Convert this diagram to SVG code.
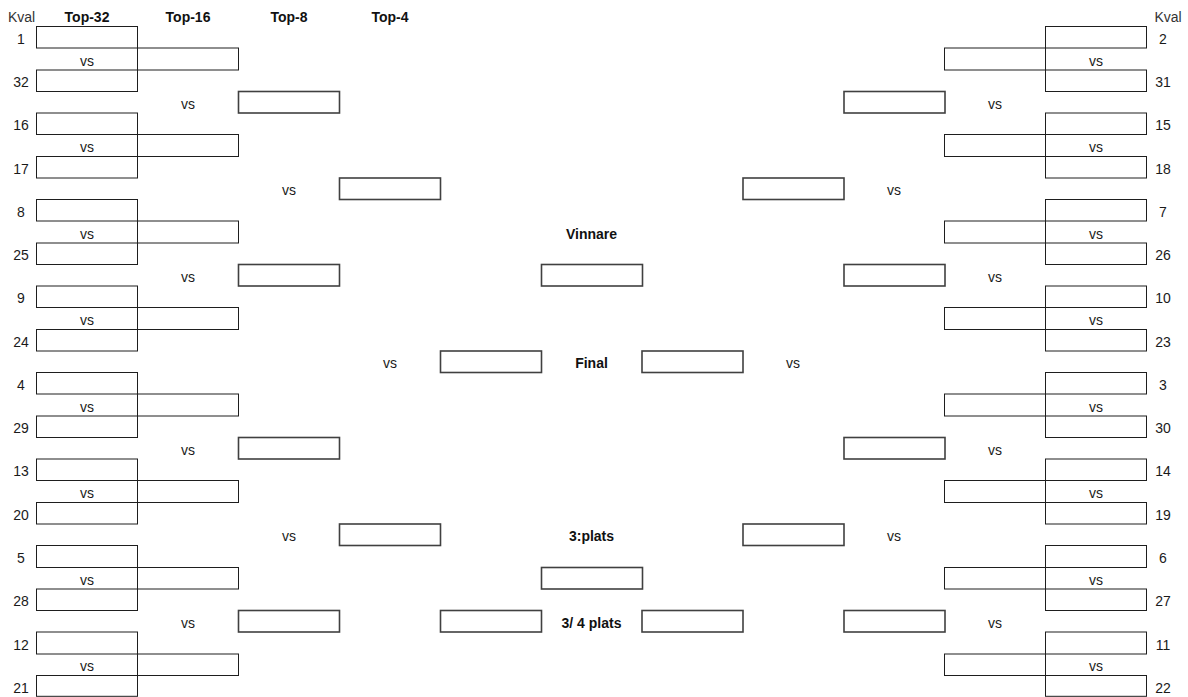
<svg xmlns="http://www.w3.org/2000/svg" width="1188" height="697" viewBox="0 0 1188 697">
<style>
text{font-family:"Liberation Sans",Arial,sans-serif;font-size:14px;fill:#1a1a1a;text-anchor:middle}
.h{font-weight:bold;fill:#111}
.k{fill:#333}
.b{fill:#fff;stroke:#1e1e1e;stroke-width:1}
.w{fill:#fff;stroke:#404040;stroke-width:1.6}
</style>
<rect width="1188" height="697" fill="#fff"/>
<g id="headers">
<text class="k" x="21.5" y="22.2">Kval</text>
<text class="h" x="87" y="22.2">Top-32</text>
<text class="h" x="188" y="22.2">Top-16</text>
<text class="h" x="289" y="22.2">Top-8</text>
<text class="h" x="390" y="22.2">Top-4</text>
<text class="k" x="1168" y="22.2">Kval</text>
</g>
<g id="connectors"></g>
<!-- Left Top-32 -->
<g id="L32-1"><rect class="b" x="36.5" y="26.5" width="101" height="21.5"/><text x="21" y="43.7">1</text></g>
<g id="L32-32"><rect class="b" x="36.5" y="70" width="101" height="21.5"/><text x="21" y="87.2">32</text></g>
<g id="L32-16"><rect class="b" x="36.5" y="113" width="101" height="21.5"/><text x="21" y="130.2">16</text></g>
<g id="L32-17"><rect class="b" x="36.5" y="156.5" width="101" height="21.5"/><text x="21" y="173.7">17</text></g>
<g id="L32-8"><rect class="b" x="36.5" y="199.5" width="101" height="21.5"/><text x="21" y="216.7">8</text></g>
<g id="L32-25"><rect class="b" x="36.5" y="243" width="101" height="21.5"/><text x="21" y="260.2">25</text></g>
<g id="L32-9"><rect class="b" x="36.5" y="286" width="101" height="21.5"/><text x="21" y="303.2">9</text></g>
<g id="L32-24"><rect class="b" x="36.5" y="329.5" width="101" height="21.5"/><text x="21" y="346.7">24</text></g>
<g id="L32-4"><rect class="b" x="36.5" y="372.5" width="101" height="21.5"/><text x="21" y="389.7">4</text></g>
<g id="L32-29"><rect class="b" x="36.5" y="416" width="101" height="21.5"/><text x="21" y="433.2">29</text></g>
<g id="L32-13"><rect class="b" x="36.5" y="459" width="101" height="21.5"/><text x="21" y="476.2">13</text></g>
<g id="L32-20"><rect class="b" x="36.5" y="502.5" width="101" height="21.5"/><text x="21" y="519.7">20</text></g>
<g id="L32-5"><rect class="b" x="36.5" y="545.5" width="101" height="22"/><text x="21" y="563.2">5</text></g>
<g id="L32-28"><rect class="b" x="36.5" y="589" width="101" height="21.5"/><text x="21" y="606.2">28</text></g>
<g id="L32-12"><rect class="b" x="36.5" y="632" width="101" height="22"/><text x="21" y="649.7">12</text></g>
<g id="L32-21"><rect class="b" x="36.5" y="675.5" width="101" height="20.8"/><text x="21" y="692.7">21</text></g>
<!-- Left Top-16 -->
<g id="L16-1"><rect class="b" x="137.5" y="48" width="101" height="22"/><text x="87" y="65.7">vs</text></g>
<g id="L16-2"><rect class="b" x="137.5" y="134.5" width="101" height="22"/><text x="87" y="152.2">vs</text></g>
<g id="L16-3"><rect class="b" x="137.5" y="221" width="101" height="22"/><text x="87" y="238.7">vs</text></g>
<g id="L16-4"><rect class="b" x="137.5" y="307.5" width="101" height="22"/><text x="87" y="325.2">vs</text></g>
<g id="L16-5"><rect class="b" x="137.5" y="394" width="101" height="22"/><text x="87" y="411.7">vs</text></g>
<g id="L16-6"><rect class="b" x="137.5" y="480.5" width="101" height="22"/><text x="87" y="498.2">vs</text></g>
<g id="L16-7"><rect class="b" x="137.5" y="567.5" width="101" height="21.5"/><text x="87" y="584.7">vs</text></g>
<g id="L16-8"><rect class="b" x="137.5" y="654" width="101" height="21.5"/><text x="87" y="671.2">vs</text></g>
<!-- Left Top-8 -->
<g id="L8-1"><rect class="w" x="238.5" y="91.5" width="101" height="21.5"/><text x="188" y="108.7">vs</text></g>
<g id="L8-2"><rect class="w" x="238.5" y="264.5" width="101" height="21.5"/><text x="188" y="281.7">vs</text></g>
<g id="L8-3"><rect class="w" x="238.5" y="437.5" width="101" height="21.5"/><text x="188" y="454.7">vs</text></g>
<g id="L8-4"><rect class="w" x="238.5" y="610.5" width="101" height="21.5"/><text x="188" y="627.7">vs</text></g>
<!-- Left Top-4 -->
<g id="L4-1"><rect class="w" x="339.5" y="178" width="101" height="21.5"/><text x="289" y="195.2">vs</text></g>
<g id="L4-2"><rect class="w" x="339.5" y="524" width="101" height="21.5"/><text x="289" y="541.2">vs</text></g>
<!-- Final -->
<g id="final-left"><rect class="w" x="440.5" y="351" width="101" height="21.5"/><text x="390" y="368.2">vs</text></g>
<g id="final-label"><text class="h" x="591.5" y="368.2">Final</text></g>
<g id="final-right"><rect class="w" x="642" y="351" width="101" height="21.5"/><text x="793" y="368.2">vs</text></g>
<g id="winner"><text class="h" x="591.5" y="238.7">Vinnare</text><rect class="w" x="541.5" y="264.5" width="101" height="21.5"/></g>
<g id="third"><text class="h" x="591.5" y="541.2">3:plats</text><rect class="w" x="541.5" y="567.5" width="101" height="21.5"/></g>
<g id="third-left"><rect class="w" x="440.5" y="610.5" width="101" height="21.5"/></g>
<g id="third-label"><text class="h" x="591.5" y="627.7">3/ 4 plats</text></g>
<g id="third-right"><rect class="w" x="642" y="610.5" width="101" height="21.5"/></g>
<!-- Right Top-4 -->
<g id="R4-1"><rect class="w" x="743" y="178" width="101" height="21.5"/><text x="894" y="195.2">vs</text></g>
<g id="R4-2"><rect class="w" x="743" y="524" width="101" height="21.5"/><text x="894" y="541.2">vs</text></g>
<!-- Right Top-8 -->
<g id="R8-1"><rect class="w" x="844" y="91.5" width="101" height="21.5"/><text x="995" y="108.7">vs</text></g>
<g id="R8-2"><rect class="w" x="844" y="264.5" width="101" height="21.5"/><text x="995" y="281.7">vs</text></g>
<g id="R8-3"><rect class="w" x="844" y="437.5" width="101" height="21.5"/><text x="995" y="454.7">vs</text></g>
<g id="R8-4"><rect class="w" x="844" y="610.5" width="101" height="21.5"/><text x="995" y="627.7">vs</text></g>
<!-- Right Top-16 -->
<g id="R16-1"><rect class="b" x="944.5" y="48" width="101" height="22"/><text x="1096" y="65.7">vs</text></g>
<g id="R16-2"><rect class="b" x="944.5" y="134.5" width="101" height="22"/><text x="1096" y="152.2">vs</text></g>
<g id="R16-3"><rect class="b" x="944.5" y="221" width="101" height="22"/><text x="1096" y="238.7">vs</text></g>
<g id="R16-4"><rect class="b" x="944.5" y="307.5" width="101" height="22"/><text x="1096" y="325.2">vs</text></g>
<g id="R16-5"><rect class="b" x="944.5" y="394" width="101" height="22"/><text x="1096" y="411.7">vs</text></g>
<g id="R16-6"><rect class="b" x="944.5" y="480.5" width="101" height="22"/><text x="1096" y="498.2">vs</text></g>
<g id="R16-7"><rect class="b" x="944.5" y="567.5" width="101" height="21.5"/><text x="1096" y="584.7">vs</text></g>
<g id="R16-8"><rect class="b" x="944.5" y="654" width="101" height="21.5"/><text x="1096" y="671.2">vs</text></g>
<!-- Right Top-32 -->
<g id="R32-2"><rect class="b" x="1045.5" y="26.5" width="101" height="21.5"/><text x="1163" y="43.7">2</text></g>
<g id="R32-31"><rect class="b" x="1045.5" y="70" width="101" height="21.5"/><text x="1163" y="87.2">31</text></g>
<g id="R32-15"><rect class="b" x="1045.5" y="113" width="101" height="21.5"/><text x="1163" y="130.2">15</text></g>
<g id="R32-18"><rect class="b" x="1045.5" y="156.5" width="101" height="21.5"/><text x="1163" y="173.7">18</text></g>
<g id="R32-7"><rect class="b" x="1045.5" y="199.5" width="101" height="21.5"/><text x="1163" y="216.7">7</text></g>
<g id="R32-26"><rect class="b" x="1045.5" y="243" width="101" height="21.5"/><text x="1163" y="260.2">26</text></g>
<g id="R32-10"><rect class="b" x="1045.5" y="286" width="101" height="21.5"/><text x="1163" y="303.2">10</text></g>
<g id="R32-23"><rect class="b" x="1045.5" y="329.5" width="101" height="21.5"/><text x="1163" y="346.7">23</text></g>
<g id="R32-3"><rect class="b" x="1045.5" y="372.5" width="101" height="21.5"/><text x="1163" y="389.7">3</text></g>
<g id="R32-30"><rect class="b" x="1045.5" y="416" width="101" height="21.5"/><text x="1163" y="433.2">30</text></g>
<g id="R32-14"><rect class="b" x="1045.5" y="459" width="101" height="21.5"/><text x="1163" y="476.2">14</text></g>
<g id="R32-19"><rect class="b" x="1045.5" y="502.5" width="101" height="21.5"/><text x="1163" y="519.7">19</text></g>
<g id="R32-6"><rect class="b" x="1045.5" y="545.5" width="101" height="22"/><text x="1163" y="563.2">6</text></g>
<g id="R32-27"><rect class="b" x="1045.5" y="589" width="101" height="21.5"/><text x="1163" y="606.2">27</text></g>
<g id="R32-11"><rect class="b" x="1045.5" y="632" width="101" height="22"/><text x="1163" y="649.7">11</text></g>
<g id="R32-22"><rect class="b" x="1045.5" y="675.5" width="101" height="20.8"/><text x="1163" y="692.7">22</text></g>
</svg>
